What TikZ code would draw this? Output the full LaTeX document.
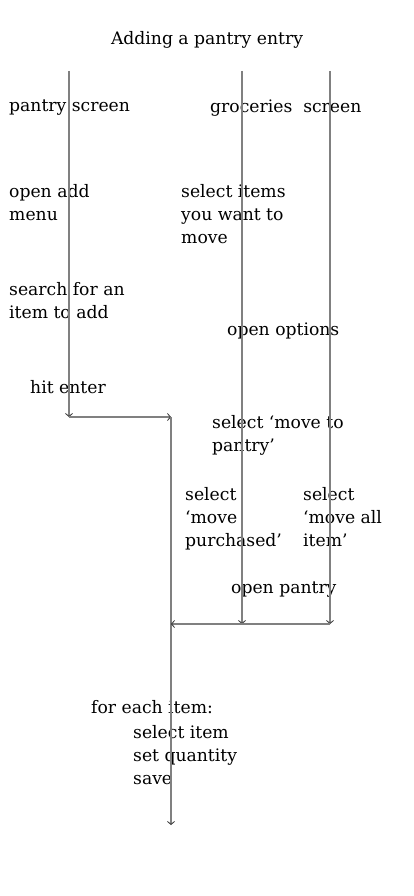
\documentclass[tikz,border=0pt]{standalone}
\usepackage{fontspec}
\setmainfont{DejaVu Serif}
\usetikzlibrary{arrows.meta}
\tikzset{
  lbl/.style={anchor=north west, inner sep=0pt, align=left, font=\fontsize{17.2}{23}\selectfont, text=black},
  life/.style={draw=gray, line width=1.4pt},
  flow/.style={life, -{Straight Barb[length=3pt,width=7pt,line width=0.8pt,color=black!80]}}
}
\begin{document}
\begin{tikzpicture}[x=1pt,y=-1pt]
\useasboundingbox[fill=white] (0,0) rectangle (414,896);
% text
\node[lbl, anchor=north] (title) at (207,31) {Adding a pantry entry};
\node[lbl] (ps) at (9,100) {pantry screen};
\node[lbl] (gs) at (210,100) {groceries\ \ screen};
\node[lbl] (oam) at (9,184) {open add\\menu};
\node[lbl] (sel) at (181,184) {select items\\you want to\\move};
\node[lbl] (srch) at (9,282) {search for an\\item to add};
\node[lbl] (oo) at (227,323) {open options};
\node[lbl] (he) at (30,380) {hit enter};
\node[lbl] (mtp) at (212,415) {select ‘move to\\pantry’};
\node[lbl] (mp) at (185,487) {select\\‘move\\purchased’};
\node[lbl] (ma) at (303,487) {select\\‘move all\\item’};
\node[lbl] (op) at (231,582) {open pantry};
\node[lbl] (fe) at (91,700) {for each item:};
\node[lbl] (steps) at (133,725) {select item\\set quantity\\save};
% coordinates
\coordinate (t1) at (69,71);
\coordinate (t2) at (242,71);
\coordinate (t3) at (330,71);
\coordinate (j1) at (69,417);
\coordinate (j2) at (171,417);
\coordinate (m1) at (171,624);
\coordinate (m2) at (242,624);
\coordinate (m3) at (330,624);
\coordinate (e) at (171,825);
% connectors
\draw[flow] (t1) -- (j1);
\draw[flow] (j1) -- (j2);
\draw[flow] (j2) -- (e);
\draw[flow] (t2) -- (m2);
\draw[flow] (t3) -- (m3);
\draw[flow] (m3) -- (m1);
\end{tikzpicture}
\end{document}
